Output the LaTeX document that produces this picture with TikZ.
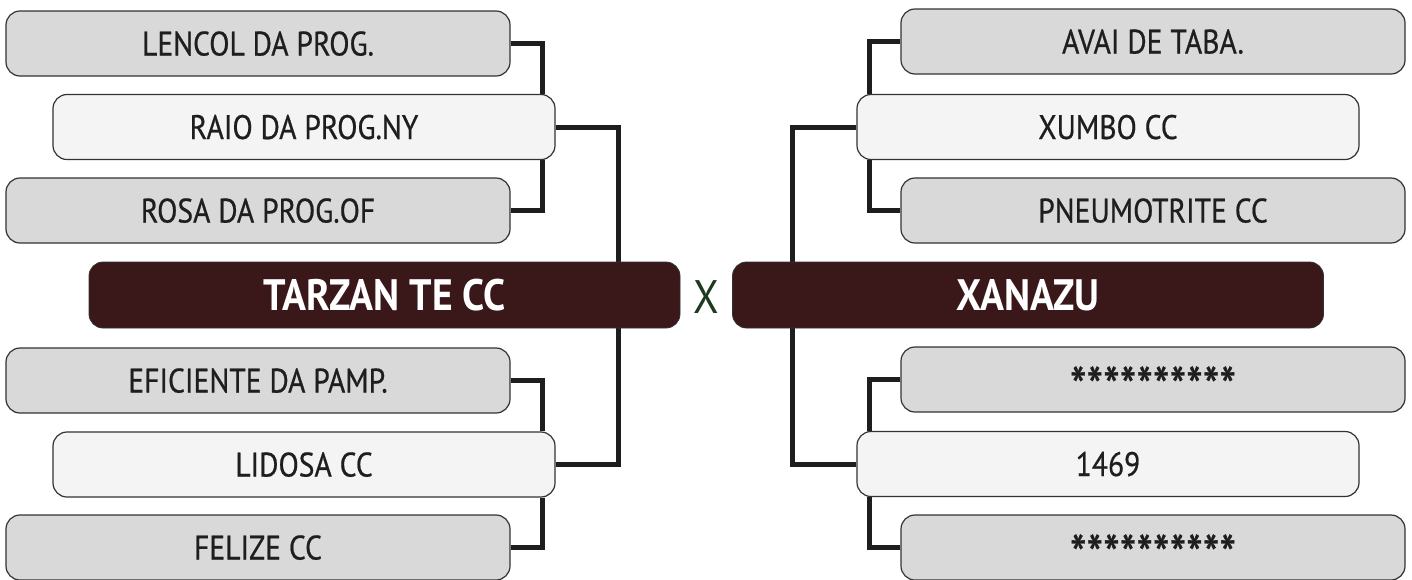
\documentclass[tikz,border=0pt]{standalone}
\usepackage{fontspec}
\setmainfont{PT Sans}[FakeStretch=0.88]
\newfontfamily\itemfont{PT Sans}[FakeStretch=0.87, FakeBold=0.6]
\newfontfamily\titlefont{PT Sans Bold}[FakeStretch=0.9]
\usetikzlibrary{backgrounds}
\definecolor{boxgray}{HTML}{D9D9D9}
\definecolor{boxlight}{HTML}{F4F4F4}
\definecolor{maroon}{HTML}{3A1719}
\definecolor{edge}{HTML}{333333}
\definecolor{linek}{HTML}{1E1E1E}
\definecolor{xgreen}{HTML}{1B3A22}
\newcommand{\stars}{\raisebox{-15pt}{\scalebox{1.6}[1.65]{**********}}}
\tikzset{
  base/.style={rounded corners=14pt, draw=edge, line width=1.2pt, text=linek,
    font=\itemfont\fontsize{34}{34}\selectfont, inner sep=0pt, minimum height=65pt,
    text height=24pt, text depth=0pt},
  graybox/.style={base, fill=boxgray, minimum width=504pt},
  lightbox/.style={base, fill=boxlight, minimum width=502pt},
  titlebox/.style={rounded corners=14pt, fill=maroon, draw=edge, line width=0.8pt, text=white,
    font=\titlefont\fontsize{44}{44}\selectfont, minimum width=591pt, minimum height=66pt, inner sep=0pt,
    text height=31pt, text depth=0pt},
  conn/.style={draw=linek, line width=5pt}
}
\begin{document}
\begin{tikzpicture}[x=1pt,y=-1pt]
\useasboundingbox (0,0) rectangle (1412,579);
% left
\node[graybox]  (L1) at (258,43.5)  {LENCOL DA PROG.};
\node[lightbox] (L2) at (304,127)   {RAIO DA PROG.NY};
\node[graybox]  (L3) at (258,210.5) {ROSA DA PROG.OF};
\node[titlebox] (T)  at (384.5,295) {TARZAN TE CC};
\node[graybox]  (L5) at (258,380.5) {EFICIENTE DA PAMP.};
\node[lightbox] (L6) at (304,464.5) {LIDOSA CC};
\node[graybox]  (L7) at (258,547.5) {FELIZE CC};
% right
\node[graybox]  (R1) at (1153,41.5)  {AVAI DE TABA.};
\node[lightbox] (R2) at (1108,127)   {XUMBO CC};
\node[graybox]  (R3) at (1153,210.5) {PNEUMOTRITE CC};
\node[titlebox] (U)  at (1028,295)   {XANAZU};
\node[graybox]  (R5) at (1153,379.5) {\stars};
\node[lightbox] (R6) at (1108,464)   {1469};
\node[graybox]  (R7) at (1153,547.5) {\stars};
\node[text=xgreen, font=\fontsize{47}{47}\selectfont, inner sep=0pt] (X) at (706,297) {X};
\begin{scope}[on background layer]
\draw[conn] (L1.east) -| ([xshift=-13pt]L2.north east);
\draw[conn] ([xshift=-13pt]L2.south east) |- (L3.east);
\draw[conn] (L5.east) -| ([xshift=-13pt]L6.north east);
\draw[conn] ([xshift=-13pt]L6.south east) |- (L7.east);
\draw[conn] (L2.east) -- ++(63,0) |- (L6.east);
\draw[conn] (R1.west) -| ([xshift=13pt]R2.north west);
\draw[conn] ([xshift=13pt]R2.south west) |- (R3.west);
\draw[conn] (R5.west) -| ([xshift=13pt]R6.north west);
\draw[conn] ([xshift=13pt]R6.south west) |- (R7.west);
\draw[conn] (R2.west) -- ++(-64,0) |- (R6.west);
\end{scope}
\end{tikzpicture}
\end{document}
